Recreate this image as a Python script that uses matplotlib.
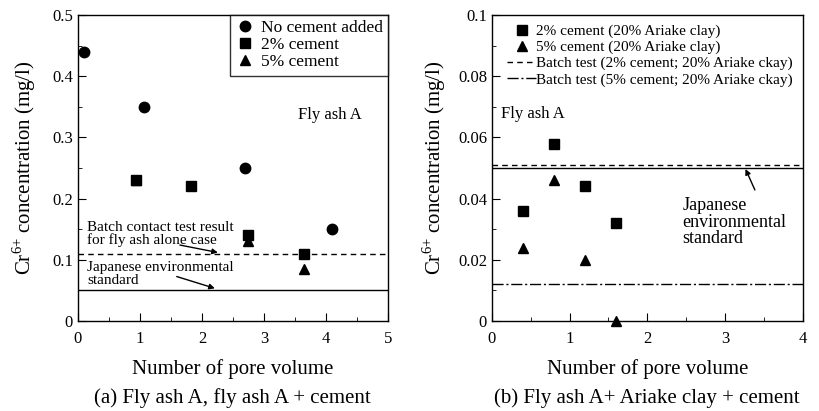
import matplotlib.pyplot as plt
from matplotlib.ticker import MultipleLocator

plt.rcParams['font.family'] = ['Liberation Serif', 'DejaVu Serif']
plt.rcParams['mathtext.fontset'] = 'custom'
plt.rcParams['mathtext.rm'] = 'Liberation Serif'

# painel (a)
a_none_x = [0.1, 1.07, 2.7, 4.1]
a_none_y = [0.44, 0.35, 0.25, 0.15]
a_c2_x = [0.93, 1.83, 2.74, 3.65]
a_c2_y = [0.23, 0.22, 0.14, 0.11]
a_c5_x = [0.93, 2.75, 3.65]
a_c5_y = [0.23, 0.13, 0.085]
a_batch = 0.11
a_standard = 0.05

# painel (b)
b_c2_x = [0.4, 0.8, 1.2, 1.6]
b_c2_y = [0.036, 0.058, 0.044, 0.032]
b_c5_x = [0.4, 0.8, 1.2, 1.6]
b_c5_y = [0.024, 0.046, 0.020, 0.0]
b_batch2 = 0.051
b_batch5 = 0.012
b_standard = 0.05

ylabel = r'Cr$^{\mathrm{6{+}}}$ concentration (mg/l)'


def style_axes(ax, xmaj, xmin, ymaj, ymin):
    ax.xaxis.set_major_locator(MultipleLocator(xmaj))
    ax.xaxis.set_minor_locator(MultipleLocator(xmin))
    ax.yaxis.set_major_locator(MultipleLocator(ymaj))
    ax.yaxis.set_minor_locator(MultipleLocator(ymin))
    ax.tick_params(which='both', direction='in', top=False, right=False, labelsize=12)
    ax.tick_params(which='major', length=6)
    ax.tick_params(which='minor', length=3)
    ax.tick_params(axis='x', pad=7)
    for s in ax.spines.values():
        s.set_linewidth(1.0)


fig = plt.figure(figsize=(8.19, 4.11), dpi=100)

# ---- (a) ----
ax1 = fig.add_axes([0.0952, 0.219, 0.3785, 0.7445])
ax1.plot(a_none_x, a_none_y, 'o', color='black', ms=7.5, label='No cement added')
ax1.plot(a_c2_x, a_c2_y, 's', color='black', ms=7.5, label='2% cement')
ax1.plot(a_c5_x, a_c5_y, '^', color='black', ms=7.5, label='5% cement')
ax1.axhline(a_batch, color='black', lw=1, ls=(0, (4, 3)))
ax1.axhline(a_standard, color='black', lw=1)
ax1.set_xlim(0, 5)
ax1.set_ylim(0, 0.5)
style_axes(ax1, 1, 0.5, 0.1, 0.05)
ax1.set_yticks([0, 0.1, 0.2, 0.3, 0.4, 0.5])
ax1.set_yticklabels(['0', '0.1', '0.2', '0.3', '0.4', '0.5'])
ax1.set_xlabel('Number of pore volume', fontsize=15, labelpad=9)
ax1.set_ylabel(ylabel, fontsize=15, labelpad=10)
leg = ax1.legend(loc='upper right', fontsize=12.5, handletextpad=0.3,
                 fancybox=False, edgecolor='black', borderaxespad=0,
                 labelspacing=0.05, handlelength=1.2, borderpad=0.3)
leg.get_frame().set_linewidth(1.0)
ax1.text(3.55, 0.33, 'Fly ash A', fontsize=12)
ax1.text(0.15, 0.125, 'Batch contact test result\nfor fly ash alone case',
         fontsize=11, linespacing=0.95)
ax1.annotate('', xy=(2.3, 0.111), xytext=(1.6, 0.125),
             arrowprops=dict(arrowstyle='-|>', color='black', lw=1, mutation_scale=8))
ax1.text(0.15, 0.061, 'Japanese environmental\nstandard',
         fontsize=11, linespacing=0.95)
ax1.annotate('', xy=(2.25, 0.052), xytext=(1.55, 0.074),
             arrowprops=dict(arrowstyle='-|>', color='black', lw=1, mutation_scale=8))
fig.text(0.284, 0.032, '(a) Fly ash A, fly ash A + cement', fontsize=15,
         ha='center', va='center')

# ---- (b) ----
ax2 = fig.add_axes([0.6007, 0.219, 0.3793, 0.7445])
ax2.plot(b_c2_x, b_c2_y, 's', color='black', ms=7.5, clip_on=False,
         label='2% cement (20% Ariake clay)')
ax2.plot(b_c5_x, b_c5_y, '^', color='black', ms=7.5, clip_on=False,
         label='5% cement (20% Ariake clay)')
ax2.axhline(b_batch2, color='black', lw=1, ls=(0, (4, 3)),
            label='Batch test (2% cement; 20% Ariake ckay)')
ax2.axhline(b_batch5, color='black', lw=1, ls=(0, (8, 2, 1.5, 2)),
            label='Batch test (5% cement; 20% Ariake ckay)')
ax2.axhline(b_standard, color='black', lw=1)
ax2.set_xlim(0, 4)
ax2.set_ylim(0, 0.1)
style_axes(ax2, 1, 0.5, 0.02, 0.01)
ax2.set_yticks([0, 0.02, 0.04, 0.06, 0.08, 0.1])
ax2.set_yticklabels(['0', '0.02', '0.04', '0.06', '0.08', '0.1'])
ax2.set_xlabel('Number of pore volume', fontsize=15, labelpad=9)
ax2.set_ylabel(ylabel, fontsize=15, labelpad=7)
ax2.legend(loc='upper left', fontsize=11, frameon=False, handletextpad=0.0,
           labelspacing=0.15, handlelength=1.9, borderaxespad=0.2,
           bbox_to_anchor=(0.02, 1.0))
ax2.text(0.12, 0.0665, 'Fly ash A', fontsize=12)
ax2.text(2.45, 0.0255, 'Japanese\nenvironmental\nstandard', fontsize=13,
         linespacing=0.95)
ax2.annotate('', xy=(3.25, 0.0505), xytext=(3.4, 0.042),
             arrowprops=dict(arrowstyle='-|>', color='black', lw=1, mutation_scale=8))
fig.text(0.79, 0.032, '(b) Fly ash A+ Ariake clay + cement', fontsize=15,
         ha='center', va='center')

fig.savefig('out.png', dpi=100)
